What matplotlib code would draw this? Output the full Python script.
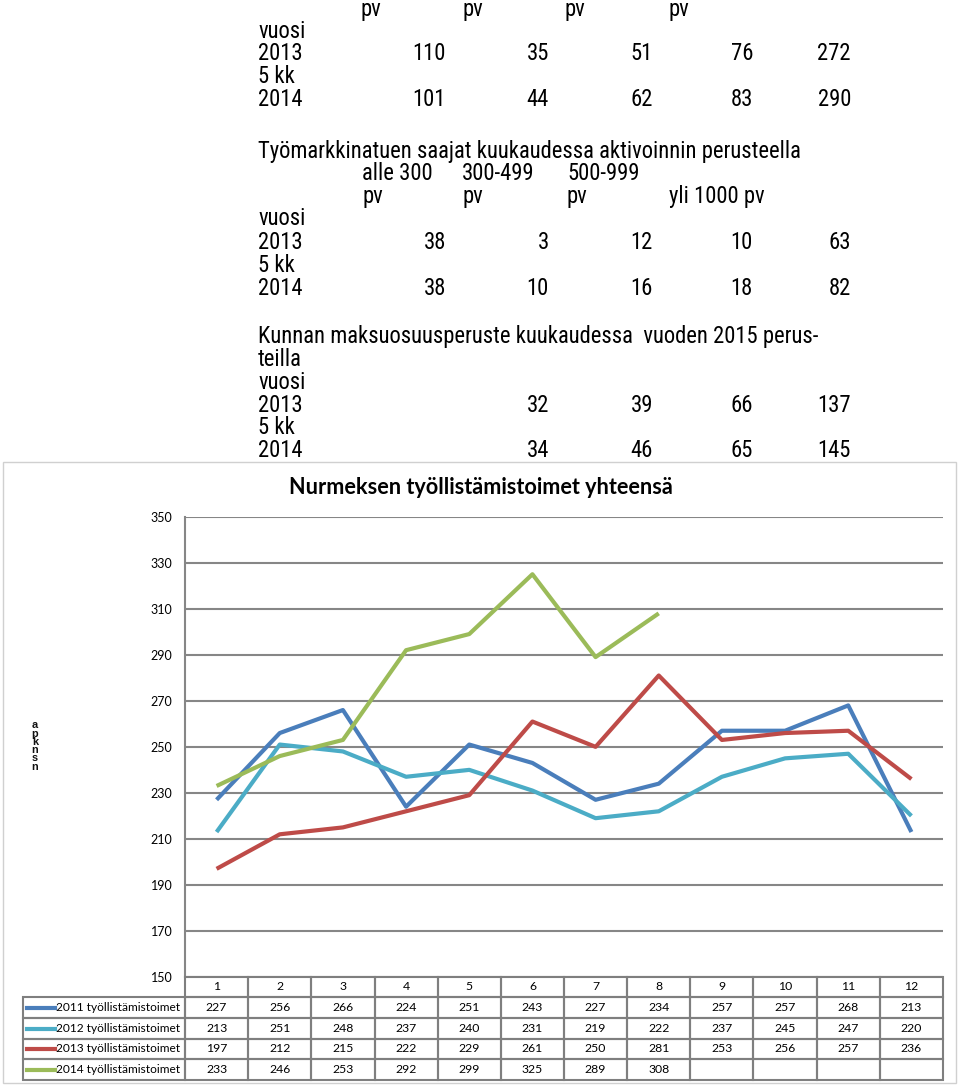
import matplotlib
matplotlib.use('Agg')
import matplotlib.pyplot as plt
from matplotlib import font_manager
from matplotlib.patches import Rectangle
from matplotlib.lines import Line2D

W, H = 960, 1087

# ---------------- data ----------------
months = [1, 2, 3, 4, 5, 6, 7, 8, 9, 10, 11, 12]
month_labels = ['1', '2', '3', '4', '5', '6', '7', '8', '9', '10', '11', '12']
series_names = ['2011 työllistämistoimet', '2012 työllistämistoimet',
                '2013 työllistämistoimet', '2014 työllistämistoimet']
s2011 = [227, 256, 266, 224, 251, 243, 227, 234, 257, 257, 268, 213]
s2012 = [213, 251, 248, 237, 240, 231, 219, 222, 237, 245, 247, 220]
s2013 = [197, 212, 215, 222, 229, 261, 250, 281, 253, 256, 257, 236]
s2014 = [233, 246, 253, 292, 299, 325, 289, 308]
series = [s2011, s2012, s2013, s2014]
colors = ['#4A7EBB', '#4BACC6', '#BE4B48', '#9BBB59']
yticks = [150, 170, 190, 210, 230, 250, 270, 290, 310, 330, 350]
chart_title = 'Nurmeksen työllistämistoimet yhteensä'

# document text above the chart
doc1_head = ['pv', 'pv', 'pv', 'pv']
doc1_2013 = [110, 35, 51, 76, 272]
doc1_2014 = [101, 44, 62, 83, 290]
doc2_title = 'Työmarkkinatuen saajat kuukaudessa aktivoinnin perusteella'
doc2_head1 = ['alle 300', '300-499', '500-999']
doc2_head2 = ['pv', 'pv', 'pv', 'yli 1000 pv']
doc2_2013 = [38, 3, 12, 10, 63]
doc2_2014 = [38, 10, 16, 18, 82]
doc3_title = ['Kunnan maksuosuusperuste kuukaudessa  vuoden 2015 perus-', 'teilla']
doc3_2013 = [32, 39, 66, 137]
doc3_2014 = [34, 46, 65, 145]

# ---------------- figure ----------------
fig = plt.figure(figsize=(W / 100, H / 100), dpi=100)
fig.patch.set_facecolor('white')

def fx(px):
    return px / W

def fy(py):
    return 1 - py / H

_names = {f.name for f in font_manager.fontManager.ttflist}
if 'Roboto Condensed' in _names:
    DOC_FONT, DOC_SIZE = ['Roboto Condensed', 'DejaVu Sans'], 16.3
elif 'Liberation Sans Narrow' in _names:
    DOC_FONT, DOC_SIZE = ['Liberation Sans Narrow', 'DejaVu Sans'], 17
else:
    DOC_FONT, DOC_SIZE = ['Liberation Sans', 'DejaVu Sans'], 14.3

LEFT = 258
num_right = [446, 549, 653, 753, 851]

def dtext(x, y, s, ha='left'):
    fig.text(fx(x), fy(y + 8), s, ha=ha, va='baseline', fontsize=DOC_SIZE,
             family=DOC_FONT, color='black')

# block 1
for x, s in zip([360, 462, 565, 669], doc1_head):
    dtext(x, 8, s)
dtext(LEFT, 30, 'vuosi')
dtext(LEFT, 52, '2013')
for x, v in zip(num_right, doc1_2013):
    dtext(x, 52, str(v), ha='right')
dtext(LEFT, 75, '5 kk')
dtext(LEFT, 98, '2014')
for x, v in zip(num_right, doc1_2014):
    dtext(x, 98, str(v), ha='right')

# block 2
dtext(LEFT, 150, doc2_title)
for x, s in zip([362, 462, 567], doc2_head1):
    dtext(x, 172, s)
for x, s in zip([362, 462, 567, 669], doc2_head2):
    dtext(x, 195, s)
dtext(LEFT, 217, 'vuosi')
dtext(LEFT, 241, '2013')
for x, v in zip(num_right, doc2_2013):
    dtext(x, 241, str(v), ha='right')
dtext(LEFT, 264, '5 kk')
dtext(LEFT, 287, '2014')
for x, v in zip(num_right, doc2_2014):
    dtext(x, 287, str(v), ha='right')

# block 3
dtext(LEFT, 335, doc3_title[0])
dtext(LEFT, 358, doc3_title[1])
dtext(LEFT, 381, 'vuosi')
dtext(LEFT, 404, '2013')
for x, v in zip(num_right[1:], doc3_2013):
    dtext(x, 404, str(v), ha='right')
dtext(LEFT, 426, '5 kk')
dtext(LEFT, 449, '2014')
for x, v in zip(num_right[1:], doc3_2014):
    dtext(x, 449, str(v), ha='right')

# chart frame
fig.add_artist(Rectangle((fx(3), fy(1083)), fx(956) - fx(3), fy(462) - fy(1083),
                         transform=fig.transFigure, facecolor='white',
                         edgecolor='#d0d0d0', lw=1.0, zorder=0))

# title
fig.text(fx(481), fy(487), chart_title, ha='center', va='center',
         fontsize=15.6, fontweight='bold', family=['Lato', 'DejaVu Sans'],
         color='black')

# y label (garbled stacked letters)
fig.text(fx(35), fy(746), 'a\np\nk\nn\ns\nn', ha='center', va='center',
         fontsize=7.8, fontweight='bold', family=['Liberation Sans', 'DejaVu Sans'],
         linespacing=0.78, color='#111111')

# ---------------- axes ----------------
AX_L, AX_R, AX_T, AX_B = 185, 943, 516.7, 977
ax = fig.add_axes([fx(AX_L), fy(AX_B), fx(AX_R) - fx(AX_L), fy(AX_T) - fy(AX_B)])
ax.patch.set_alpha(0)
ax.set_xlim(0.5, 12.5)
ax.set_ylim(150, 350)
ax.set_yticks(yticks)
ax.set_yticklabels([str(v) for v in yticks], family=['Lato', 'DejaVu Sans'], fontsize=9)
ax.tick_params(axis='y', length=0, pad=9)
ax.set_xticks([])
ax.grid(axis='y', color='#868686', lw=1.5)
ax.set_axisbelow(True)
for sp in ['top', 'right', 'bottom']:
    ax.spines[sp].set_visible(False)
ax.spines['left'].set_color('#868686')
ax.spines['left'].set_linewidth(1.5)

for vals, c in zip(series, colors):
    ax.plot(months[:len(vals)], vals, color=c, lw=3.0, solid_capstyle='butt',
            clip_on=False, zorder=3)

# ---------------- data table ----------------
col_w = (AX_R - AX_L) / 12.0
ax_h = AX_B - AX_T

def dx(px):
    return 0.5 + (px - AX_L) / col_w

def ay(py):
    return (AX_B - py) / ax_h

tr = ax.get_xaxis_transform()
row_edges = [977, 997, 1018, 1039, 1059, 1080]
tcol = '#7f7f7f'
tfont = ['Lato', 'DejaVu Sans']
tsize = 8.8

# header row
for i, lab in enumerate(month_labels):
    x0 = months[i] - 0.5
    ax.add_patch(Rectangle((x0, ay(row_edges[1])), 1, ay(row_edges[0]) - ay(row_edges[1]),
                           transform=tr, facecolor='none', edgecolor=tcol, lw=1.5,
                           clip_on=False, zorder=4))
    ax.text(months[i], ay((row_edges[0] + row_edges[1]) / 2), lab, transform=tr,
            ha='center', va='center', fontsize=tsize, family=tfont, clip_on=False)

lab_x0 = dx(23)
for r, (name, vals, c) in enumerate(zip(series_names, series, colors)):
    top, bot = row_edges[r + 1], row_edges[r + 2]
    yc = ay((top + bot) / 2)
    ax.add_patch(Rectangle((lab_x0, ay(bot)), 0.5 - lab_x0, ay(top) - ay(bot),
                           transform=tr, facecolor='none', edgecolor=tcol, lw=1.5,
                           clip_on=False, zorder=4))
    ax.add_line(Line2D([dx(27), dx(55)], [yc, yc], transform=tr, color=c, lw=3.0,
                       clip_on=False, zorder=5))
    ax.text(dx(56), yc, name, transform=tr, ha='left', va='center',
            fontsize=8.6, family=tfont, clip_on=False)
    for i in range(12):
        ax.add_patch(Rectangle((months[i] - 0.5, ay(bot)), 1, ay(top) - ay(bot),
                               transform=tr, facecolor='none', edgecolor=tcol, lw=1.5,
                               clip_on=False, zorder=4))
        if i < len(vals):
            ax.text(months[i], yc, str(vals[i]), transform=tr, ha='center',
                    va='center', fontsize=tsize, family=tfont, clip_on=False)

fig.savefig('out.png', dpi=100, facecolor='white')
